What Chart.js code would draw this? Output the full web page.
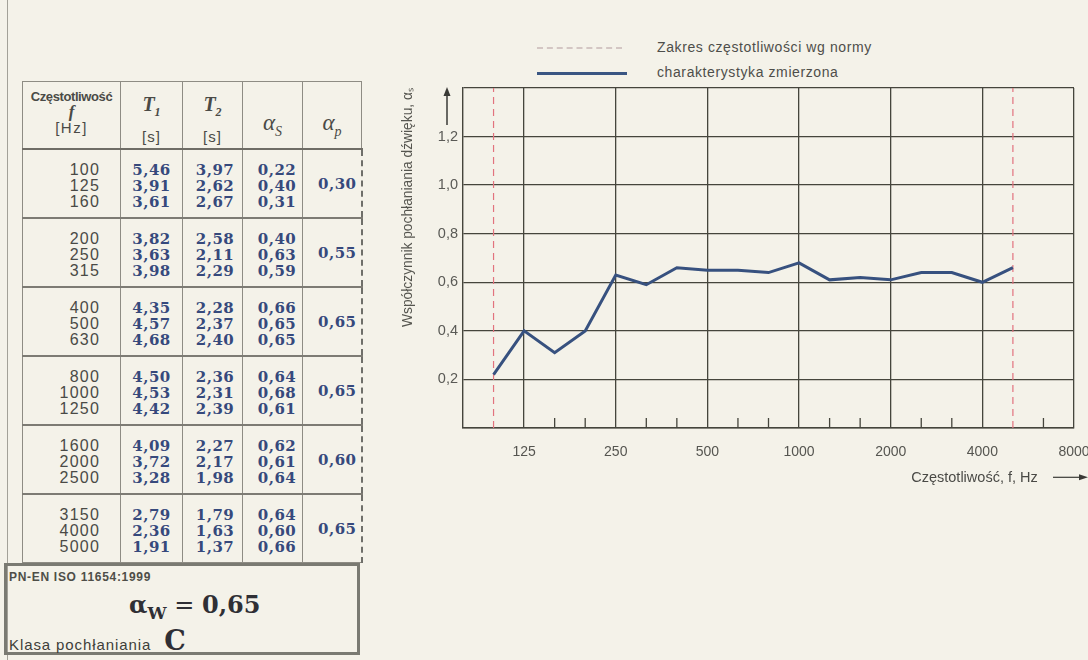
<!DOCTYPE html>
<html lang="pl">
<head>
<meta charset="utf-8">
<script src="https://cdn.jsdelivr.net/npm/chart.js@4.4.1/dist/chart.umd.min.js"></script>
<style>
  html,body{margin:0;padding:0;}
  body{width:1088px;height:660px;background:#f4f2e9;position:relative;overflow:hidden;font-family:"Liberation Sans",Arial,sans-serif;}
  #edge{position:absolute;left:7px;top:0;width:1px;height:660px;background:#a3a198;}
  table.tab{position:absolute;left:22px;top:81px;border-collapse:collapse;table-layout:fixed;width:339px;font-family:"Liberation Sans",Arial,sans-serif;}
  .tab th,.tab td{border:1px solid #8e8c84;padding:0;text-align:center;}
  .tab th{height:66px;font-weight:normal;vertical-align:top;color:#4a4a46;border-bottom:2px solid #6f6d66;}
  .tab td{height:67px;vertical-align:middle;border-top:2px solid #7d7b74;}
  .tab td.f{text-align:right;padding-right:20px;color:#4a4a46;font-size:16px;line-height:16px;letter-spacing:1.2px;padding-top:4px;height:63px;}
  .tab td.v{font-family:"DejaVu Serif",serif;font-weight:bold;color:#36497c;font-size:15px;line-height:16px;letter-spacing:0.5px;padding-top:4px;height:63px;}
  .tab td.c2{padding-left:5px;}
  .tab td.c3{padding-left:9px;}
  .tab td.last{border-right:2px dashed #6f6f6a;padding-left:11px;padding-top:0;height:67px;}
  .cz{font-size:13px;font-weight:bold;line-height:15px;padding-top:7px;white-space:nowrap;letter-spacing:-0.4px;}
  .fi{font-family:"Liberation Serif",serif;font-style:italic;font-weight:bold;font-size:17px;line-height:15px;}
  .hz{font-size:15px;line-height:17px;letter-spacing:1.5px;}
  .tt{font-family:"Liberation Serif",serif;font-style:italic;font-weight:bold;font-size:20px;line-height:20px;padding-top:12px;}
  .tt sub{font-size:12px;}
  .un{font-size:15px;line-height:16px;margin-top:7px;letter-spacing:1px;}
  .al{font-family:"Liberation Serif",serif;font-style:italic;font-size:23px;line-height:22px;padding-top:30px;}
  .al sub{font-size:14px;}
  #box{position:absolute;left:4px;top:563px;width:350px;height:86px;border:3px solid #7a7a72;}
  #box .std{position:absolute;left:2px;top:4px;font-size:12px;font-weight:bold;color:#4e4e48;letter-spacing:0.7px;}
  #box .aw{position:absolute;left:122px;top:24px;font-family:"DejaVu Serif",serif;font-size:24px;color:#2f2f35;}
  #box .aw b sub{font-size:17px;}
  #box .kl{position:absolute;left:2px;top:62px;font-size:15px;color:#3e3e3a;line-height:26px;letter-spacing:0.9px;}
  #box .kl b{font-family:"DejaVu Serif",serif;font-size:27px;margin-left:8px;color:#2f2f35;letter-spacing:0;}
  .leg{position:absolute;left:537px;height:20px;font-size:14px;color:#4e4e4a;letter-spacing:0.6px;}
  .leg span.s{position:absolute;left:0;top:9px;width:85px;}
  .leg span.t{position:absolute;left:120px;top:1px;white-space:nowrap;}
  #wrap{position:absolute;left:385px;top:80px;width:703px;height:410px;}
</style>
</head>
<body>
<div id="edge"></div>
<table class="tab" id="tab">
  <colgroup><col style="width:98px"><col style="width:62px"><col style="width:60px"><col style="width:60px"><col style="width:59px"></colgroup>
  <thead><tr>
    <th><div class="cz">Częstotliwość</div><div class="fi">f</div><div class="hz">[Hz]</div></th>
    <th><div class="tt">T<sub>1</sub></div><div class="un">[s]</div></th>
    <th><div class="tt">T<sub>2</sub></div><div class="un">[s]</div></th>
    <th><div class="al">α<sub>S</sub></div></th>
    <th><div class="al">α<sub>p</sub></div></th>
  </tr></thead>
  <tbody id="tbody"></tbody>
</table>
<div id="box">
  <div class="std">PN-EN ISO 11654:1999</div>
  <div class="aw" id="aw"></div>
  <div class="kl" id="kl"></div>
</div>
<div class="leg" style="top:38px"><span class="s" style="border-top:2px dashed #d3c6c3"></span><span class="t">Zakres częstotliwości wg normy</span></div>
<div class="leg" style="top:63px"><span class="s" style="border-top:3px solid #3a5683;width:90px"></span><span class="t">charakterystyka zmierzona</span></div>
<div id="wrap"><canvas id="chart"></canvas></div>
<script>
// dane pomiarowe -------------------------------------------------------------
const bandFreqs = ['100','125','160','200','250','315','400','500','630','800','1000','1250','1600','2000','2500','3150','4000','5000'];
const t1 = [5.46,3.91,3.61,3.82,3.63,3.98,4.35,4.57,4.68,4.50,4.53,4.42,4.09,3.72,3.28,2.79,2.36,1.91];
const t2 = [3.97,2.62,2.67,2.58,2.11,2.29,2.28,2.37,2.40,2.36,2.31,2.39,2.27,2.17,1.98,1.79,1.63,1.37];
const alphaS = [0.22,0.40,0.31,0.40,0.63,0.59,0.66,0.65,0.65,0.64,0.68,0.61,0.62,0.61,0.64,0.64,0.60,0.66];
const alphaP = [0.30,0.55,0.65,0.65,0.60,0.65];
const alphaW = 0.65;
const absClass = 'C';

// os X (tercje) i zakres normy
const freqLabels = ['80','100','125','160','200','250','315','400','500','630','800','1000','1250','1600','2000','2500','3150','4000','5000','6300','8000'];
const octaveLabels = ['125','250','500','1000','2000','4000','8000'];
const normRange = ['100','5000'];
const yMin = 0, yMax = 1.4, yStep = 0.2;

const pl = (v, d=2) => v.toFixed(d).replace('.', ',');
const $ = (s) => document.querySelector(s);

// tabela ---------------------------------------------------------------------
let rows = '';
for(let g=0; g<alphaP.length; g++){
  const sl = (arr, f) => arr.slice(g*3, g*3+3).map(f).join('<br>');
  rows += `<tr><td class="f">${sl(bandFreqs, x=>x)}</td><td class="v">${sl(t1, x=>pl(x))}</td>`+
          `<td class="v c2">${sl(t2, x=>pl(x))}</td><td class="v c3">${sl(alphaS, x=>pl(x))}</td>`+
          `<td class="v last">${pl(alphaP[g])}</td></tr>`;
}
$('#tbody').innerHTML = rows;
$('#aw').innerHTML = `<b>α<sub>W</sub></b> = <b>${pl(alphaW)}</b>`;
$('#kl').innerHTML = `Klasa pochłaniania <b>${absClass}</b>`;

// wykres ---------------------------------------------------------------------
const gridCol = '#45453c';
const sansFam = '"Liberation Sans", Arial, sans-serif';
const seriesS = freqLabels.map(f => { const i = bandFreqs.indexOf(f); return i < 0 ? null : alphaS[i]; });

const decor = {
  id: 'decor',
  beforeDatasetsDraw(chart){
    const {ctx, chartArea:a, scales:{x}} = chart;
    ctx.save();
    ctx.strokeStyle = gridCol; ctx.lineWidth = 1.3;
    freqLabels.forEach((f,i)=>{
      if(i===0 || i===freqLabels.length-1 || octaveLabels.includes(f) || normRange.includes(f)) return;
      const px = x.getPixelForValue(i);
      ctx.beginPath(); ctx.moveTo(px, a.bottom); ctx.lineTo(px, a.bottom-10); ctx.stroke();
    });
    ctx.restore();
  },
  afterDraw(chart){
    const {ctx, chartArea:a, scales:{x}} = chart;
    ctx.save();
    ctx.strokeStyle = '#3a3a36'; ctx.fillStyle = '#3a3a36'; ctx.lineWidth = 1.5;
    // strzalka osi Y
    const ax = a.left - 16;
    ctx.beginPath(); ctx.moveTo(ax, a.top+37); ctx.lineTo(ax, a.top+6); ctx.stroke();
    ctx.beginPath(); ctx.moveTo(ax, a.top-1); ctx.lineTo(ax-3.5, a.top+8); ctx.lineTo(ax+3.5, a.top+8); ctx.closePath(); ctx.fill();
    // strzalka osi X
    const ay = x.bottom - 4 - 8.7;
    ctx.lineWidth = 1.2;
    ctx.beginPath(); ctx.moveTo(a.right-21, ay); ctx.lineTo(a.right+8, ay); ctx.stroke();
    ctx.beginPath(); ctx.moveTo(a.right+14, ay); ctx.lineTo(a.right+5, ay-3); ctx.lineTo(a.right+5, ay+3); ctx.closePath(); ctx.fill();
    ctx.restore();
  }
};

new Chart($('#chart'), {
  type: 'line',
  data: {
    labels: freqLabels,
    datasets: [
      { label:'charakterystyka zmierzona', data: seriesS, borderColor:'#37517f', borderWidth:3, pointRadius:0, tension:0 },
      ...normRange.map(f => ({ label:'Zakres częstotliwości wg normy', data:[{x:f, y:yMin},{x:f, y:yMax}],
        borderColor:'#e2737e', borderWidth:1.2, borderDash:[7,5], pointRadius:0 }))
    ]
  },
  options: {
    responsive: true, maintainAspectRatio: false, animation: false,
    layout: { padding: { top:8, right:14, left:0, bottom:0 } },
    plugins: { legend:{display:false}, tooltip:{enabled:false} },
    scales: {
      x: {
        offset: false,
        grid: { color: c => octaveLabels.includes(freqLabels[c.index]) ? gridCol : 'transparent', lineWidth:1.3, drawTicks:false },
        border: { color: gridCol, width: 1.6 },
        ticks: { autoSkip:false, maxRotation:0, padding:16, color:'#555550',
                 font:{ family:sansFam, size:14 },
                 callback: (v,i) => octaveLabels.includes(freqLabels[i]) ? freqLabels[i] : '' },
        title: { display:true, text:'Częstotliwość, f, Hz' + ' '.repeat(9), align:'end', color:'#4a4a46',
                 font:{ family:sansFam, size:14.5 }, padding:{top:0, bottom:3} },
        afterFit: s => { s.height = 62; s.paddingLeft = 0; s.paddingRight = 0; }
      },
      y: {
        min: yMin, max: yMax,
        grid: { color: gridCol, lineWidth:1.3, drawTicks:false },
        border: { color: gridCol, width: 1.4 },
        ticks: { stepSize: yStep, padding:5, color:'#5a5a56',
                 font:{ family:sansFam, size:14.5 },
                 callback: v => (v < yMin+0.01 || v > yMax-0.01) ? '' : pl(v, 1) },
        title: { display:true, text:'Współczynnik pochłaniania dźwięku, αₛ', align:'end', color:'#55554f',
                 font:{ family:sansFam, size:13.8 }, padding:{top:15, bottom:0} },
        afterFit: s => { s.width = 78; s.paddingTop = 0; s.paddingBottom = 0; }
      }
    }
  },
  plugins: [decor]
});
</script>
</body>
</html>
